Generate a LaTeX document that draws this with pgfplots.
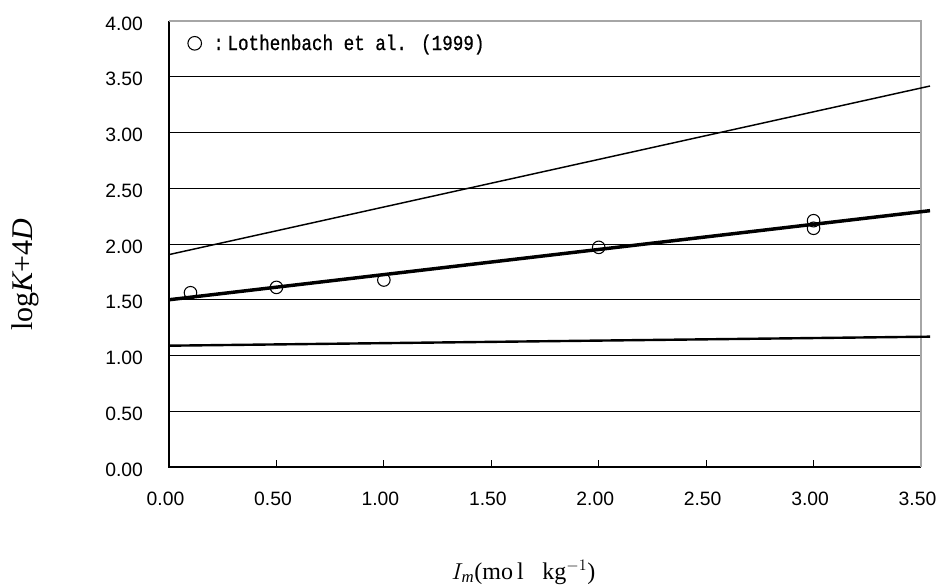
\documentclass[border=0pt]{standalone}
\usepackage{pgfplots}
\pgfplotsset{compat=1.18}
\usepackage{fontspec}
\setmainfont{Liberation Serif}
\newfontfamily\ticksans{Liberation Sans}
\newfontfamily\monofont[FakeStretch=0.825, FakeBold=0.8]{Liberation Mono}

\begin{document}
\begin{tikzpicture}
\useasboundingbox (-126.75pt,-90pt) rectangle (577.5pt,350.25pt);
\begin{axis}[
  at={(0,0)}, anchor=south west,
  scale only axis,
  width=564pt, height=334.5pt,
  xmin=0, xmax=3.5, ymin=0, ymax=4,
  xtick={0,0.5,...,3.5},
  ytick={0,0.5,...,4},
  axis line style={draw=none},
  ymajorgrids,
  grid style={black, line width=0.7pt},
  major tick length=5.25pt,
  xtick style={black, line width=0.7pt},
  ytick style={draw=none},
  tick align=inside,
  xtick pos=bottom,
  ytick pos=left,
  tick label style={font=\fontsize{14.5}{16}\selectfont\ticksans, inner sep=0pt},
  /pgf/number format/assume math mode=true,
  /pgf/number format/.cd, fixed, fixed zerofill, precision=2,
  /pgfplots/.cd,
  xticklabel style={anchor=center, yshift=-24pt, xshift=-2.6pt},
  yticklabel style={anchor=east, xshift=-19.3pt, yshift=-1.8pt},
  clip=false,
  legend style={at={(rel axis cs:0.0248,0.950)}, anchor=west, draw=none, fill=none,
    inner sep=0pt, nodes={inner sep=0pt},
    font=\fontsize{16}{18}\selectfont\monofont,
    /tikz/every odd column/.append style={column sep=8.9pt}},
  legend image code/.code={\draw[#1, mark size=5.1pt] plot coordinates {(0pt,0pt)};},
  legend cell align=left,
]
% frame: dark left/bottom, grey top/right
\draw[black, line width=0.9pt] (rel axis cs:0,1) -- (rel axis cs:0,0) -- (rel axis cs:1,0);
\draw[gray!70, line width=0.9pt] (rel axis cs:0,1) -- (rel axis cs:1,1) -- (rel axis cs:1,0);

% measured data
\addplot[only marks, mark=o, mark size=4.7pt, mark options={line width=0.8pt, black}]
  coordinates {(0.1,1.563) (0.5,1.611) (1.0,1.677) (2.0,1.970) (3.0,2.209) (3.0,2.141)};
\addlegendentry{:\,Lothenbach et al. (1999)}

% model lines
\addplot[black, line width=1.1pt, forget plot] coordinates {(0,1.905) (3.542,3.417)};
\addplot[black, line width=2.6pt, forget plot] coordinates {(0,1.500) (3.542,2.299)};
\addplot[black, line width=1.8pt, forget plot] coordinates {(0,1.088) (3.542,1.169)};
\end{axis}

\node[rotate=90, font=\fontsize{22.5}{25}\selectfont] at (-108pt,144pt) {log$\mathit{K}$+4$\mathit{D}$};
\node[anchor=base, font=\fontsize{18}{20}\selectfont] at (265.9pt,-84pt)
  {$I_{\mathit{m}}$(mo\hspace{3pt}l\hspace{14pt}kg$^{-1}$)};
\end{tikzpicture}
\end{document}
